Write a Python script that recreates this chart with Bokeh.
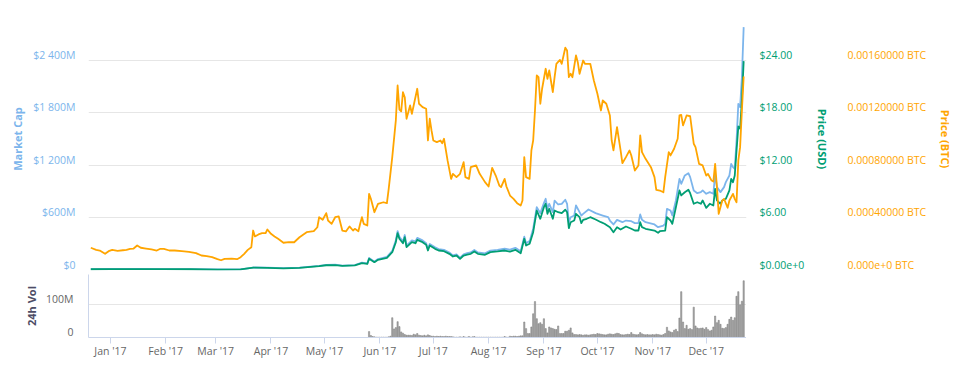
import pandas as pd
from bokeh.plotting import figure
from bokeh.models import Range1d, LinearAxis, FixedTicker, ColumnDataSource, PlainText
from bokeh.layouts import column
from bokeh.embed import file_html
from bokeh.resources import INLINE

# ---------------- data (days are offsets from 2017-01-01) ----------------
BASE = pd.Timestamp("2017-01-01")
VIEW_START = "2016-12-19 17:00"
VIEW_END = "2017-12-23 14:00"

btc_days = [-11, -8, -6, -3, -1, 1, 4, 7, 9, 11,
            13, 15, 17, 20, 23, 26, 28, 30, 33, 36,
            40, 44, 48, 51, 54, 57, 60, 62, 64, 68,
            71, 73, 75, 77, 79, 80, 81, 83, 85, 87,
            88, 90, 92, 94, 97, 100, 103, 106, 108, 110,
            114, 116, 117, 119, 121, 122, 124, 126, 128, 130,
            132, 134, 136, 137, 139, 140, 141, 142, 144, 145,
            146, 148, 150, 153, 155, 156, 158, 160, 161, 162,
            163, 164, 165, 166, 168, 169, 170, 172, 173, 175,
            177, 178, 179, 180, 181, 183, 185, 186, 187, 189,
            191, 192, 194, 196, 198, 199, 201, 202, 205, 207,
            210, 212, 214, 216, 218, 219, 221, 222, 224, 226,
            228, 230, 231, 232, 233, 235, 236, 237, 238, 239,
            240, 241, 242, 244, 245, 246, 248, 249, 250, 252,
            253, 255, 256, 257, 258, 259, 261, 262, 263, 265,
            266, 269, 271, 273, 275, 276, 278, 280, 281, 282,
            284, 286, 287, 289, 291, 292, 294, 296, 297, 298,
            300, 303, 305, 306, 308, 310, 311, 313, 314, 316,
            318, 319, 320, 321, 323, 325, 327, 328, 330, 332,
            334, 335, 337, 338, 339, 340, 341, 343, 344, 346,
            347, 349, 350, 351, 352, 353, 354, 355]
btc_price = [0.000173, 0.000157, 0.000152, 0.000127, 0.000147, 0.000157, 0.000150, 0.000154, 0.000157, 0.000165,
             0.000167, 0.000190, 0.000173, 0.000167, 0.000160, 0.000152, 0.000165, 0.000165, 0.000152, 0.000152,
             0.000147, 0.000142, 0.000132, 0.000114, 0.000109, 0.000101, 0.000086, 0.000078, 0.000089, 0.000091,
             0.000086, 0.000101, 0.000127, 0.000157, 0.000177, 0.000304, 0.000259, 0.000274, 0.000284, 0.000284,
             0.000312, 0.000279, 0.000259, 0.000241, 0.000211, 0.000215, 0.000215, 0.000253, 0.000272, 0.000291,
             0.000299, 0.000329, 0.000405, 0.000386, 0.000436, 0.000380, 0.000355, 0.000405, 0.000411, 0.000304,
             0.000297, 0.000335, 0.000304, 0.000317, 0.000299, 0.000355, 0.000405, 0.000355, 0.000342, 0.000583,
             0.000545, 0.000443, 0.000507, 0.000519, 0.000512, 0.000621, 0.000862, 0.001141, 0.001407, 0.001224,
             0.001210, 0.001356, 0.001318, 0.001154, 0.001255, 0.001192, 0.001255, 0.001382, 0.001268, 0.001242,
             0.001230, 0.000989, 0.001154, 0.001065, 0.000989, 0.000976, 0.000989, 0.000968, 0.001002, 0.000837,
             0.000697, 0.000735, 0.000710, 0.000735, 0.000824, 0.000710, 0.000697, 0.000786, 0.000799, 0.000735,
             0.000672, 0.000639, 0.000781, 0.000722, 0.000646, 0.000634, 0.000697, 0.000639, 0.000570, 0.000545,
             0.000512, 0.000494, 0.000532, 0.000862, 0.000710, 0.000697, 0.000913, 0.000989, 0.001217, 0.001483,
             0.001470, 0.001268, 0.001382, 0.001534, 0.001458, 0.001521, 0.001356, 0.001470, 0.001572, 0.001602,
             0.001572, 0.001694, 0.001673, 0.001470, 0.001496, 0.001470, 0.001635, 0.001584, 0.001496, 0.001597,
             0.001572, 0.001572, 0.001445, 0.001344, 0.001217, 0.001293, 0.001268, 0.001179, 0.000989, 0.000913,
             0.001090, 0.000913, 0.000816, 0.000862, 0.000913, 0.000875, 0.000760, 0.000799, 0.001027, 0.000900,
             0.000849, 0.000786, 0.000710, 0.000614, 0.000608, 0.000595, 0.000710, 0.000900, 0.000875, 0.000926,
             0.001002, 0.001179, 0.001184, 0.001103, 0.001179, 0.001173, 0.000964, 0.000938, 0.000811, 0.000799,
             0.000722, 0.000735, 0.000684, 0.000677, 0.000811, 0.000634, 0.000431, 0.000532, 0.000545, 0.000477,
             0.000532, 0.000583, 0.000545, 0.000519, 0.000837, 0.000938, 0.001217, 0.001475]

usd_days = [-11, 0, 15, 30, 45, 60, 73, 80, 88, 97,
            106, 117, 121, 126, 130, 137, 141, 144, 145, 148,
            150, 155, 158, 160, 161, 162, 164, 165, 166, 169,
            171, 172, 175, 177, 178, 179, 182, 184, 187, 190,
            192, 194, 196, 198, 200, 202, 204, 206, 210, 213,
            217, 221, 224, 227, 230, 232, 233, 235, 237, 239,
            241, 243, 244, 245, 246, 248, 249, 251, 253, 255,
            256, 257, 258, 260, 261, 263, 264, 265, 267, 269,
            272, 275, 277, 280, 282, 284, 286, 289, 292, 294,
            296, 297, 298, 300, 305, 307, 308, 311, 312, 314,
            315, 317, 319, 320, 322, 324, 325, 327, 329, 331,
            332, 334, 336, 338, 339, 340, 342, 343, 345, 347,
            348, 349, 350, 351, 352, 353, 354, 355]
usd_price = [0.14, 0.16, 0.16, 0.15, 0.14, 0.11, 0.12, 0.32, 0.31, 0.24,
             0.30, 0.50, 0.60, 0.62, 0.52, 0.58, 0.85, 0.75, 1.35, 0.95,
             1.22, 1.45, 2.09, 3.23, 4.26, 3.62, 3.11, 3.80, 2.66, 3.23,
             3.11, 3.50, 3.23, 2.93, 2.28, 2.85, 2.47, 2.28, 2.20, 1.90,
             1.60, 1.71, 1.33, 1.71, 1.82, 1.90, 2.17, 1.90, 1.79, 2.09,
             2.17, 2.28, 2.15, 2.36, 1.97, 3.62, 2.85, 3.05, 4.37, 6.84,
             5.90, 7.22, 7.61, 6.47, 7.04, 5.90, 6.84, 6.65, 6.54, 6.93,
             6.65, 4.83, 5.51, 5.70, 6.47, 6.08, 5.40, 5.78, 5.90, 6.08,
             5.82, 5.51, 5.33, 4.94, 4.37, 4.94, 4.68, 5.02, 4.76, 4.56,
             4.56, 5.51, 4.94, 4.76, 4.56, 4.30, 4.48, 4.56, 6.08, 5.70,
             5.32, 7.22, 9.13, 8.56, 8.93, 9.21, 8.82, 7.61, 7.79, 7.61,
             7.99, 7.15, 7.61, 7.42, 9.32, 7.99, 7.61, 7.99, 8.18, 9.13,
             10.46, 10.07, 10.84, 13.69, 16.43, 16.16, 19.40, 23.88]

cap_days = [-11, 0, 15, 30, 45, 60, 73, 80, 88, 97,
            106, 117, 121, 126, 130, 137, 141, 144, 145, 148,
            150, 155, 158, 160, 161, 162, 164, 165, 166, 169,
            171, 172, 175, 177, 178, 179, 182, 184, 187, 190,
            192, 194, 196, 198, 200, 202, 204, 206, 210, 213,
            217, 221, 224, 227, 230, 232, 233, 235, 237, 239,
            241, 243, 244, 245, 246, 248, 249, 251, 253, 255,
            256, 257, 258, 260, 261, 263, 264, 265, 268, 272,
            276, 279, 280, 282, 284, 287, 289, 292, 294, 296,
            297, 298, 300, 305, 307, 310, 311, 312, 314, 315,
            317, 319, 320, 322, 324, 325, 327, 329, 331, 332,
            334, 336, 338, 339, 340, 342, 344, 345, 347, 348,
            349, 350, 351, 352, 353, 354, 355]
market_cap_m = [15, 17, 17, 16, 15, 12, 13, 34, 33, 26,
                32, 53, 64, 66, 55, 62, 90, 80, 143, 101,
                130, 155, 223, 345, 450, 385, 330, 405, 283, 343,
                332, 372, 343, 312, 245, 303, 264, 245, 236, 205,
                173, 185, 145, 185, 197, 206, 234, 206, 195, 227,
                236, 248, 237, 258, 220, 385, 312, 335, 476, 722,
                654, 768, 818, 704, 761, 666, 798, 753, 761, 807,
                761, 551, 608, 627, 742, 666, 627, 646, 696, 654,
                627, 608, 570, 525, 578, 551, 570, 562, 540, 540,
                639, 578, 551, 525, 494, 513, 532, 703, 684, 627,
                799, 1046, 989, 1084, 1110, 1065, 913, 882, 894, 913,
                875, 894, 875, 1103, 951, 894, 951, 1008, 1084, 1217,
                1179, 1160, 1483, 1901, 1863, 2206, 2776]

# 24h volume in millions USD, one value per day starting at day 145 (2017-05-26)
vol_first_day = 145
volume_m = [18, 6, 3, 2, 1, 1, 1, 1, 1, 1,
            1, 2, 4, 60, 26, 30, 48, 33, 17, 13,
            9, 7, 7, 7, 6, 10, 8, 12, 7, 6,
            5, 7, 5, 8, 6, 4, 4, 3, 4, 3,
            4, 3, 3, 4, 3, 3, 3, 2, 1, 1,
            1, 2, 1, 3, 1, 1, 3, 1, 2, 3,
            1, 1, 1, 1, 1, 1, 1, 1, 1, 1,
            1, 1, 1, 1, 1, 1, 3, 1, 1, 4,
            3, 4, 4, 3, 4, 5, 5, 47, 27, 12,
            12, 32, 72, 109, 57, 42, 45, 40, 57, 27,
            14, 32, 29, 27, 25, 24, 35, 12, 12, 12,
            19, 19, 22, 29, 14, 9, 9, 8, 9, 8,
            7, 8, 8, 7, 8, 9, 10, 9, 12, 11,
            10, 9, 8, 8, 10, 11, 10, 9, 11, 13,
            12, 9, 8, 8, 9, 10, 9, 15, 10, 9,
            8, 9, 15, 11, 9, 8, 9, 8, 8, 9,
            8, 10, 9, 8, 7, 9, 12, 31, 20, 17,
            15, 22, 25, 18, 59, 139, 47, 27, 37, 25,
            27, 24, 92, 35, 29, 27, 28, 29, 25, 30,
            24, 20, 22, 32, 65, 45, 52, 40, 28, 27,
            30, 40, 55, 62, 52, 60, 125, 139, 99, 110,
            172]

month_starts = ["2017-01-01", "2017-02-01", "2017-03-01", "2017-04-01", "2017-05-01", "2017-06-01",
                "2017-07-01", "2017-08-01", "2017-09-01", "2017-10-01", "2017-11-01", "2017-12-01"]
month_labels = ["Jan '17", "Feb '17", "Mar '17", "Apr '17", "May '17", "Jun '17",
                "Jul '17", "Aug '17", "Sep '17", "Oct '17", "Nov '17", "Dec '17"]

cap_ticks = [0, 600, 1200, 1800, 2400]
cap_labels = ["$0", "$600M", "$1 200M", "$1 800M", "$2 400M"]
usd_ticks = [0, 6, 12, 18, 24]
usd_labels = ["$0.00e+0", "$6.00", "$12.00", "$18.00", "$24.00"]
btc_ticks = [0, 0.0004, 0.0008, 0.0012, 0.0016]
btc_labels = ["0.000e+0 BTC", "0.00040000 BTC", "0.00080000 BTC", "0.00120000 BTC", "0.00160000 BTC"]
vol_ticks = [0, 100]
vol_labels = ["0", "100M"]

CAP_MAX, USD_MAX, BTC_MAX, VOL_MAX = 3000, 30, 0.002, 191

# ---------------- styling ----------------
FONT = "Open Sans"
TICK_SIZE = "10.5px"
TITLE_SIZE = "11px"
C_CAP, C_USD, C_BTC = "#7cb5ec", "#009e73", "#ffa500"
GRID = "#e6e6e6"
AXIS_LINE = "#ccd6eb"
TXT = "#666666"


def to_dates(days):
    return BASE + pd.to_timedelta(days, unit="D")


def plain_overrides(ticks, labels):
    # labels that start with "$" are passed as explicit plain text (never parsed as math)
    return {t: (PlainText(text=s) if s.startswith("$") and len(s) <= 3 else s)
            for t, s in zip(ticks, labels)}


x_range = Range1d(pd.Timestamp(VIEW_START), pd.Timestamp(VIEW_END))

MAIN_H, VOL_H = 263, 63
# Highcharts draws y labels just above their grid line; lift the label axes a little
s_main = 5.5 / MAIN_H
s_vol = 5.5 / VOL_H

main = figure(x_axis_type="datetime", x_range=x_range, y_range=Range1d(0, CAP_MAX),
              frame_width=658, frame_height=MAIN_H,
              min_border_left=88, min_border_top=7, min_border_bottom=4, min_border_right=0,
              x_axis_location=None, y_axis_location=None,
              output_backend="svg", toolbar_location=None)
main.outline_line_color = None
main.background_fill_color = "white"
main.xgrid.visible = False
main.ygrid.ticker = FixedTicker(ticks=[0, 600, 1200, 1800, 2400, 3000])
main.ygrid.grid_line_color = GRID
main.ygrid.grid_line_width = 1

main.extra_y_ranges = {
    "usd": Range1d(0, USD_MAX),
    "btc": Range1d(0, BTC_MAX),
    "cap_lab": Range1d(-CAP_MAX * s_main, CAP_MAX * (1 - s_main)),
    "usd_lab": Range1d(-USD_MAX * s_main, USD_MAX * (1 - s_main)),
    "btc_lab": Range1d(-BTC_MAX * s_main, BTC_MAX * (1 - s_main)),
}


def label_axis(range_name, ticks, labels, color, title, title_color, standoff, title_standoff,
               line_color=None):
    ax = LinearAxis(y_range_name=range_name, ticker=FixedTicker(ticks=ticks),
                    major_label_overrides=plain_overrides(ticks, labels))
    ax.axis_line_color = line_color
    ax.major_tick_line_color = None
    ax.minor_tick_line_color = None
    ax.major_tick_out = 0
    ax.major_tick_in = 0
    ax.minor_tick_out = 0
    ax.minor_tick_in = 0
    ax.major_label_text_color = color
    ax.major_label_text_font = FONT
    ax.major_label_text_font_size = TICK_SIZE
    ax.major_label_standoff = standoff
    ax.axis_label = title
    ax.axis_label_text_color = title_color
    ax.axis_label_text_font = FONT
    ax.axis_label_text_font_size = TITLE_SIZE
    ax.axis_label_text_font_style = "bold"
    ax.axis_label_standoff = title_standoff
    return ax


main.add_layout(label_axis("cap_lab", cap_ticks, cap_labels, C_CAP, "Market Cap", C_CAP, 13, 5), "left")
main.add_layout(label_axis("usd_lab", usd_ticks, usd_labels, C_USD, "Price (USD)", C_USD, 13, 8), "right")
main.add_layout(label_axis("btc_lab", btc_ticks, btc_labels, C_BTC, "Price (BTC)", C_BTC, 14, 9), "right")

cap_src = ColumnDataSource(dict(x=to_dates(cap_days), y=market_cap_m))
usd_src = ColumnDataSource(dict(x=to_dates(usd_days), y=usd_price))
btc_src = ColumnDataSource(dict(x=to_dates(btc_days), y=btc_price))

main.line("x", "y", source=cap_src, line_color=C_CAP, line_width=1.8, line_join="round")
main.line("x", "y", source=usd_src, y_range_name="usd", line_color=C_USD, line_width=1.8, line_join="round")
main.line("x", "y", source=btc_src, y_range_name="btc", line_color=C_BTC, line_width=1.8, line_join="round")

# ---------------- volume pane ----------------
vol = figure(x_axis_type="datetime", x_range=x_range, y_range=Range1d(0, VOL_MAX),
             frame_width=658, frame_height=VOL_H,
             min_border_left=88, min_border_top=0, min_border_right=0, min_border_bottom=26,
             y_axis_location=None, x_axis_location="below",
             output_backend="svg", toolbar_location=None)
vol.outline_line_color = None
vol.xgrid.visible = False
vol.ygrid.ticker = FixedTicker(ticks=[100])
vol.ygrid.grid_line_color = GRID
vol.extra_y_ranges = {"vol_lab": Range1d(-VOL_MAX * s_vol, VOL_MAX * (1 - s_vol))}
vol.add_layout(label_axis("vol_lab", vol_ticks, vol_labels, TXT, "24h Vol", "#4d4d66", 15, 4,
                          line_color=AXIS_LINE), "left")

month_ms = [int(pd.Timestamp(m).value // 10**6) for m in month_starts]
xa = vol.xaxis[0]
xa.ticker = FixedTicker(ticks=month_ms)
xa.major_label_overrides = dict(zip(month_ms, month_labels))
xa.axis_line_color = AXIS_LINE
xa.major_tick_line_color = AXIS_LINE
xa.major_tick_out = 6
xa.major_tick_in = 0
xa.minor_tick_line_color = None
xa.major_label_standoff = 0
xa.major_label_text_color = TXT
xa.major_label_text_font = FONT
xa.major_label_text_font_size = TICK_SIZE

vol_days = list(range(vol_first_day, vol_first_day + len(volume_m)))
vol_src = ColumnDataSource(dict(x=to_dates(vol_days), top=volume_m))
vol.vbar(x="x", top="top", source=vol_src, width=0.7 * 86400000,
         fill_color="#a6a6a6", line_color="#7a7a7a", line_width=0.5)

layout = column(main, vol, spacing=0)

with open("out.html", "w") as f:
    f.write(file_html(layout, INLINE))
